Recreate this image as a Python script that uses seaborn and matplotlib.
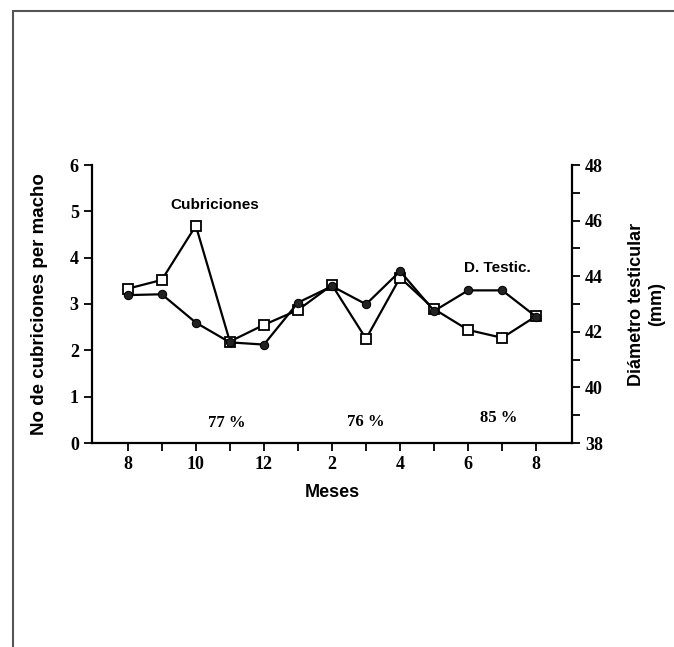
import numpy as np
import pandas as pd
import matplotlib
matplotlib.use("Agg")
import matplotlib.pyplot as plt
from matplotlib.lines import Line2D
import seaborn as sns

# datos
meses = [8, 9, 10, 11, 12, 1, 2, 3, 4, 5, 6, 7, 8]
cubriciones = [3.33, 3.52, 4.69, 2.19, 2.55, 2.87, 3.41, 2.25, 3.57, 2.89, 2.44, 2.27, 2.74]
diametro = [43.32, 43.35, 42.33, 41.62, 41.54, 43.05, 43.64, 42.99, 44.18, 42.75, 43.49, 43.49, 42.54]
porcentajes = ["77 %", "76 %", "85 %"]

df = pd.DataFrame({"pos": range(len(meses)), "mes": meses,
                   "cub": cubriciones, "diam": diametro})

sns.set_style("ticks")
plt.rcParams["font.family"] = ["Liberation Sans", "DejaVu Sans"]
plt.rcParams["text.color"] = "black"
plt.rcParams["axes.labelcolor"] = "black"

fig = plt.figure(figsize=(6.74, 6.47), dpi=100)
ax = fig.add_axes([92/674, 1-443/647, 480/674, 278/647])
ax2 = ax.twinx()

sns.lineplot(data=df, x="pos", y="cub", ax=ax, sort=False, color="black",
             marker="s", markersize=7, markerfacecolor="white",
             markeredgecolor="black", markeredgewidth=1.3, linewidth=1.6)
sns.lineplot(data=df, x="pos", y="diam", ax=ax2, sort=False, color="black",
             marker="o", markersize=6, markerfacecolor="#222222",
             markeredgecolor="black", linewidth=1.6)

ax.set_xlim(-1.05, 13.05)
ax.set_ylim(0, 6)
ax2.set_ylim(38, 48)

ax.set_xticks(df["pos"])
ax.set_xticklabels([str(m) if i % 2 == 0 else "" for i, m in enumerate(meses)])
ax.set_yticks(range(0, 7))
ax2.set_yticks(range(38, 49, 2))
ax2.set_yticks(range(39, 48, 2), minor=True)

for a in (ax, ax2):
    a.tick_params(axis="both", which="both", direction="out", length=6, width=1.3,
                  labelsize=13, labelfontfamily="Liberation Serif", colors="black")
for lab in ax.get_xticklabels() + ax.get_yticklabels() + ax2.get_yticklabels():
    lab.set_fontweight("bold")

ax.spines["top"].set_visible(False)
ax.spines["right"].set_visible(False)
ax2.spines["top"].set_visible(False)
ax2.spines["left"].set_visible(False)
ax2.spines["bottom"].set_visible(False)
for s in ("left", "bottom"):
    ax.spines[s].set_linewidth(1.6)
    ax.spines[s].set_color("black")
ax2.spines["right"].set_linewidth(1.6)
ax2.spines["right"].set_color("black")

ax.set_xlabel("Meses", fontsize=13, fontweight="bold", labelpad=8)
ax.set_ylabel("No de cubriciones per macho", fontsize=13.5, fontweight="bold", labelpad=16)
ax2.set_ylabel("Diámetro testicular\n(mm)", fontsize=13, fontweight="bold", labelpad=18)

ax.text(2.56, 5.14, "Cubriciones", fontsize=11, fontweight="bold", ha="center", va="center")
ax.text(10.85, 3.78, "D. Testic.", fontsize=11, fontweight="bold", ha="center", va="center")
for xp, yp, t in zip([2.9, 7.0, 10.9], [0.43, 0.45, 0.54], porcentajes):
    ax.text(xp, yp, t, fontsize=12, fontweight="bold", ha="center", va="center",
            family="Liberation Serif")

# marco de la pagina
fig.add_artist(Line2D([13/674, 13/674], [0, 1-11/647], color="#555555", linewidth=1.5))
fig.add_artist(Line2D([13/674, 1], [1-11/647, 1-11/647], color="#555555", linewidth=1.5))

fig.savefig("out.png", dpi=100)
